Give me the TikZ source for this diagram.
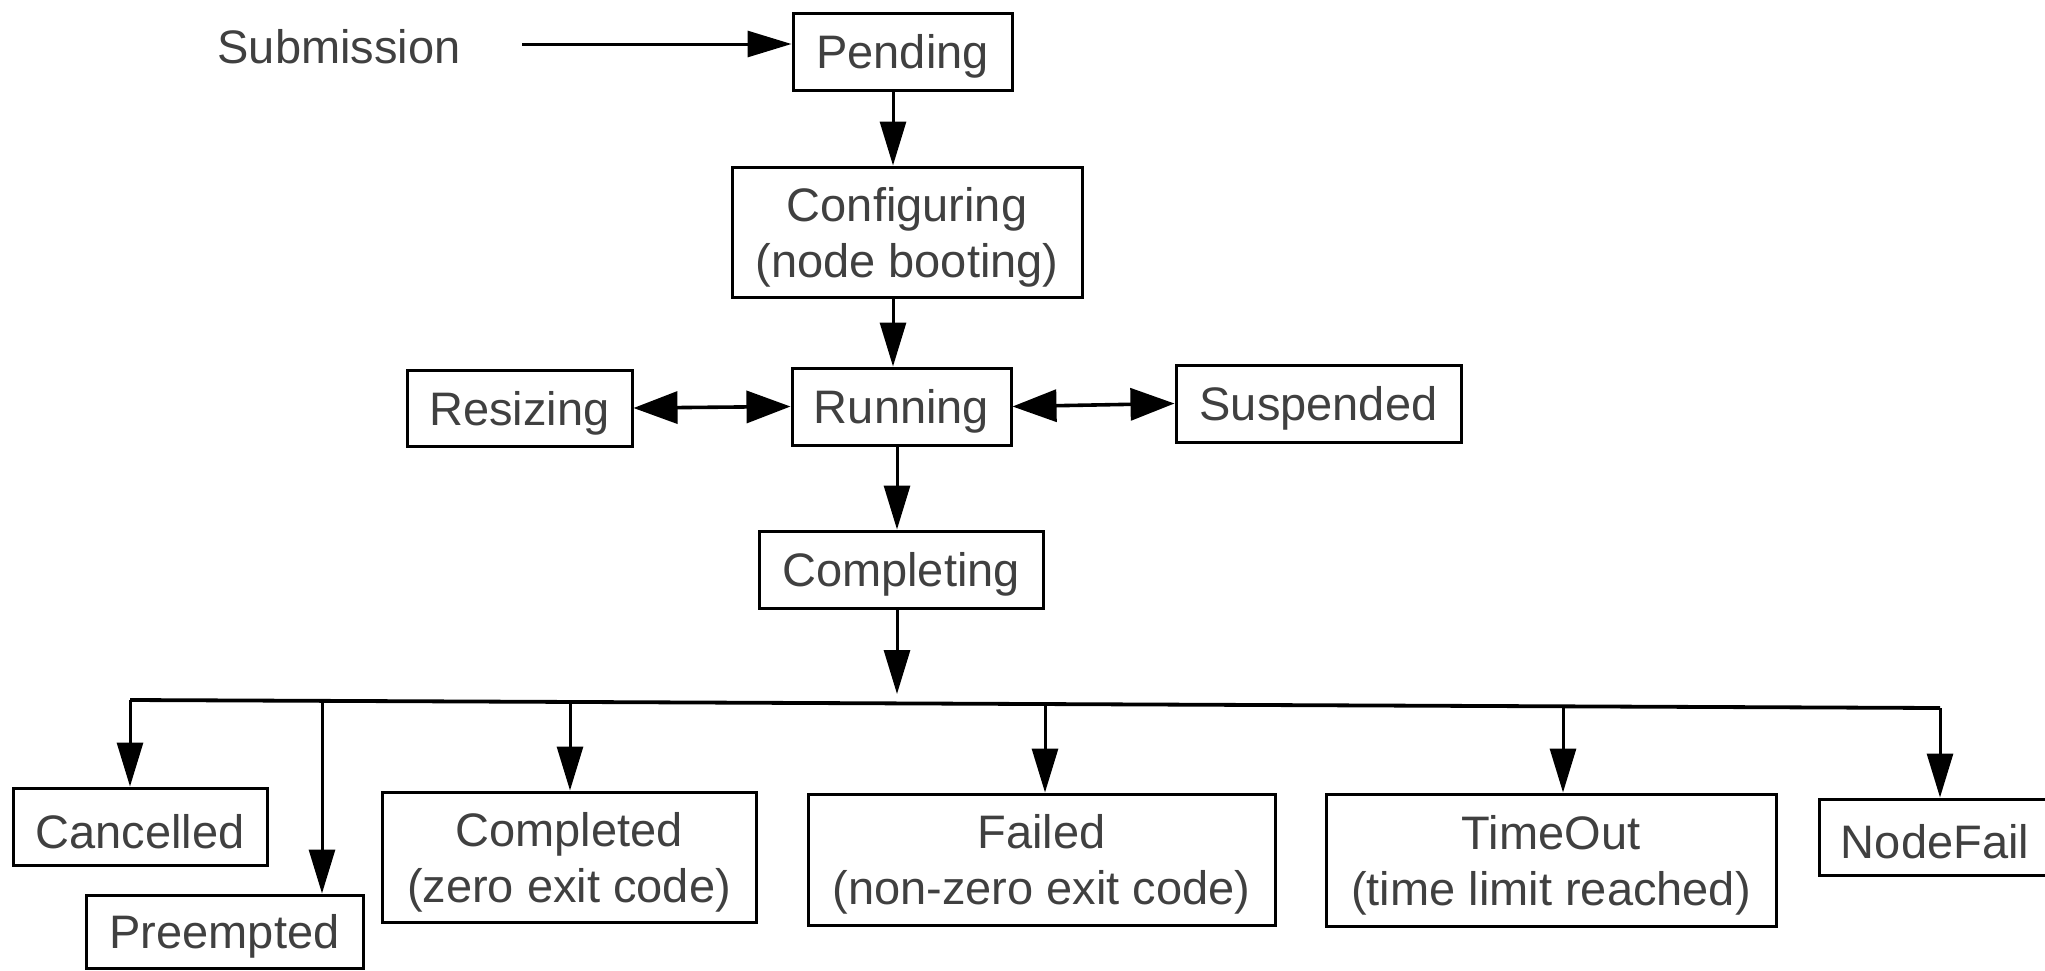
\documentclass[tikz,border=0pt]{standalone}
\usepackage{fontspec}
\setmainfont{Liberation Sans}
\usetikzlibrary{arrows.meta}
\definecolor{txt}{RGB}{64,64,64}
\begin{document}
\begin{tikzpicture}[x=0.5pt,y=-0.5pt,
  frame/.style={draw=black, line width=1.5pt, inner sep=0pt},
  box/.style={frame, align=center, text=txt,
    font=\fontsize{23.5}{28}\selectfont, execute at begin node={\rule{0pt}{22pt}}},
  lbl/.style={inner sep=0pt, text=txt, font=\fontsize{23.5}{28}\selectfont},
  two/.style={lbl, align=center, yshift=-2.5pt},
  arr/.style={line width=1.5pt, -{Triangle[length=22pt,width=13pt]}},
  darr/.style={line width=1.8pt, {Triangle[length=22pt,width=16pt]}-{Triangle[length=22pt,width=16pt]}},
  bus/.style={line width=1.9pt}]
\useasboundingbox (0,0) rectangle (2045,970);
\clip (0,0) rectangle (2045,970);
\node[lbl] (subm) at (339,47) {Submission};
\node[box, minimum width=109.5pt, minimum height=38.5pt] (pend) at (902.5,51.5) {Pending};
\node[frame, minimum width=175pt, minimum height=65pt] (conf) at (907,232) {};
\node[two] (conft) at (conf.center) {Configuring\\(node booting)};
\node[box, minimum width=109.5pt, minimum height=38.5pt] (run) at (901.5,406.5) {Running};
\node[box, minimum width=112.5pt, minimum height=38pt] (res) at (519.5,408) {Resizing};
\node[box, minimum width=142.5pt, minimum height=38.5pt] (susp) at (1318.5,403.5) {Suspended};
\node[box, minimum width=142pt, minimum height=38.5pt] (cmpl) at (901,569.5) {Completing};
\node[box, minimum width=127pt, minimum height=38.5pt] (canc) at (140,826.5) {Cancelled};
\node[box, minimum width=138.5pt, minimum height=36.5pt] (pre) at (224.5,931.5) {Preempted};
\node[frame, minimum width=187pt, minimum height=65pt] (done) at (569,857) {};
\node[two] (donet) at (done.center) {Completed\\(zero exit code)};
\node[frame, minimum width=233.5pt, minimum height=65.5pt] (fail) at (1041.5,859.5) {};
\node[two] (failt) at (fail.center) {Failed\\(non-zero exit code)};
\node[frame, minimum width=225pt, minimum height=66pt] (tout) at (1551,860) {};
\node[two] (toutt) at (tout.center) {TimeOut\\(time limit reached)};
\node[box, minimum width=116pt, minimum height=38pt] (nfail) at (1935,837) {NodeFail};
% submission arrow
\coordinate (s0) at (522,44);
\draw[arr] (s0) -- (s0 -| pend.west);
% main chain
\coordinate (p0) at (893,90);
\draw[arr] (p0 |- pend.south) -- (p0 |- conf.north);
\draw[arr] (p0 |- conf.south) -- (p0 |- run.north);
\coordinate (r0) at (897,445);
\draw[arr] (r0 |- run.south) -- (r0 |- cmpl.north);
\coordinate (c1) at (897,694);
\draw[arr] (r0 |- cmpl.south) -- (c1);
% side states
\draw[darr] (res.east) -- (run.west);
\draw[darr] (run.east) -- (susp.west);
% bus
\coordinate (b1) at (130,700);
\coordinate (b2) at (322,700.8);
\coordinate (b3) at (570,701.9);
\coordinate (b4) at (1045,704);
\coordinate (b5) at (1563,706.3);
\coordinate (b6) at (1940,708);
\draw[bus] (b1) -- (b6);
\draw[arr] (b1) -- (b1 |- canc.north);
\draw[arr] (b2) -- (b2 |- pre.north);
\draw[arr] (b3) -- (b3 |- done.north);
\draw[arr] (b4) -- (b4 |- fail.north);
\draw[arr] (b5) -- (b5 |- tout.north);
\draw[arr] (b6) -- (b6 |- nfail.north);
\end{tikzpicture}
\end{document}
